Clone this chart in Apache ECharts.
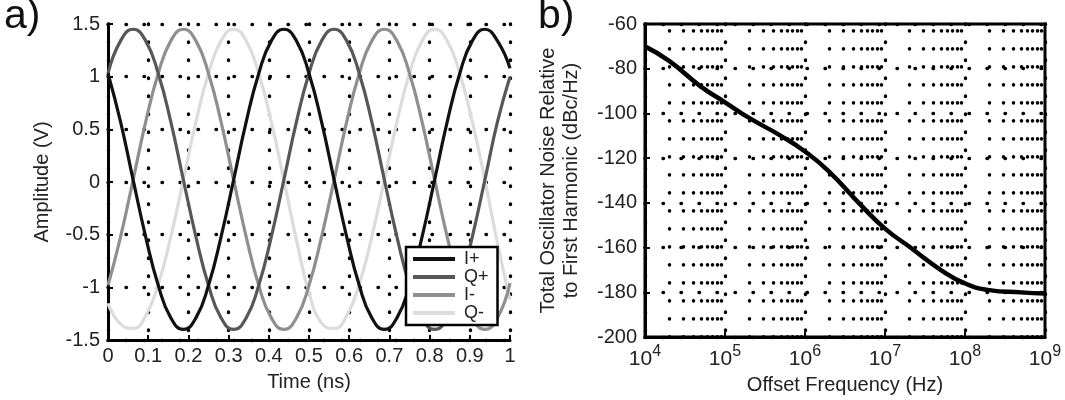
<!DOCTYPE html>
<html>
<head>
<meta charset="utf-8">
<script src="https://cdn.jsdelivr.net/npm/echarts@6/dist/echarts.min.js"></script>
<style>
  html, body { margin: 0; background: #fff; }
  #main { width: 1065px; height: 400px; }
</style>
</head>
<body>
<div id="main"></div>
<script>
// a) 四相振荡器输出波形，时间单位 ns
const timeNs = [0, 0.03125, 0.0625, 0.09375, 0.125, 0.15625, 0.1875, 0.21875, 0.25,
  0.28125, 0.3125, 0.34375, 0.375, 0.40625, 0.4375, 0.46875, 0.5,
  0.53125, 0.5625, 0.59375, 0.625, 0.65625, 0.6875, 0.71875, 0.75,
  0.78125, 0.8125, 0.84375, 0.875, 0.90625, 0.9375, 0.96875, 1];

const iPlus = [1.03, 0.57, 0.02, -0.52, -0.98, -1.29, -1.40, -1.29, -0.98,
  -0.52, 0.02, 0.57, 1.03, 1.34, 1.45, 1.34, 1.03,
  0.57, 0.02, -0.52, -0.98, -1.29, -1.40, -1.29, -0.98,
  -0.52, 0.02, 0.57, 1.03, 1.34, 1.45, 1.34, 1.08];
const qPlus = [1.03, 1.34, 1.45, 1.34, 1.03, 0.57, 0.02, -0.52, -0.98,
  -1.29, -1.40, -1.29, -0.98, -0.52, 0.02, 0.57, 1.03,
  1.34, 1.45, 1.34, 1.03, 0.57, 0.02, -0.52, -0.98,
  -1.29, -1.40, -1.29, -0.98, -0.52, 0.02, 0.57, 1.00];
const iMinus = [-0.98, -0.52, 0.02, 0.57, 1.03, 1.34, 1.45, 1.34, 1.03,
  0.57, 0.02, -0.52, -0.98, -1.29, -1.40, -1.29, -0.98,
  -0.52, 0.02, 0.57, 1.03, 1.34, 1.45, 1.34, 1.03,
  0.57, 0.02, -0.52, -0.98, -1.29, -1.40, -1.29, -0.96];
const qMinus = [-1.15, -1.35, -1.39, -1.27, -0.97, -0.52, 0.02, 0.57, 1.03,
  1.34, 1.45, 1.34, 1.03, 0.57, 0.02, -0.55, -1.05,
  -1.34, -1.39, -1.27, -0.97, -0.52, 0.02, 0.57, 1.03,
  1.34, 1.45, 1.34, 1.03, 0.57, 0.02, -0.58, -1.12];

const seriesNames = ['I+', 'Q+', 'I-', 'Q-'];
const seriesColors = ['#111111', '#575757', '#8f8f8f', '#dcdcdc'];

// b) 相对一次谐波的总噪声
const freqHz = [1e4, 2e4, 5e4, 1e5, 2e5, 5e5, 1e6, 2e6, 5e6, 1e7, 2e7, 5e7, 1e8, 2e8, 5e8, 1e9];
const noiseDbc = [-70, -76.5, -88, -95, -102, -110, -117, -126, -141, -151.5, -159.5, -170, -176, -179, -180, -180.5];

// 对数轴的次网格线位置
const minorFreqs = [
  2e4, 3e4, 4e4, 5e4, 6e4, 7e4, 8e4, 9e4,
  2e5, 3e5, 4e5, 5e5, 6e5, 7e5, 8e5, 9e5,
  2e6, 3e6, 4e6, 5e6, 6e6, 7e6, 8e6, 9e6,
  2e7, 3e7, 4e7, 5e7, 6e7, 7e7, 8e7, 9e7,
  2e8, 3e8, 4e8, 5e8, 6e8, 7e8, 8e8, 9e8
];

const FONT = '"Liberation Sans", Arial, sans-serif';
const dotLine = { color: '#000', type: [0.5, 17.5], width: 3.4, cap: 'round' };

var myChart = echarts.init(document.getElementById('main'));

const waveData = [iPlus, qPlus, iMinus, qMinus];
const waveSeries = waveData.map((vals, k) => ({
  name: seriesNames[k],
  type: 'line',
  xAxisIndex: 0,
  yAxisIndex: 0,
  smooth: true,
  symbol: 'none',
  lineStyle: { color: seriesColors[k], width: 3.2 },
  itemStyle: { color: seriesColors[k] },
  data: timeNs.map((t, i) => [t, vals[i]]),
  z: 3 + (3 - k)
}));

var option = {
  animation: false,
  backgroundColor: '#fff',
  textStyle: { fontFamily: FONT },
  graphic: [
    { type: 'text', left: 4, top: -4, style: { text: 'a)', fontSize: 41, fill: '#111', fontFamily: FONT } },
    { type: 'text', left: 538, top: -4, style: { text: 'b)', fontSize: 41, fill: '#111', fontFamily: FONT } }
  ],
  legend: {
    data: seriesNames,
    orient: 'vertical',
    left: 406,
    top: 247,
    icon: 'rect',
    itemWidth: 42,
    itemHeight: 4,
    itemGap: 0,
    padding: [3, 9, 3, 7],
    borderColor: '#000',
    borderWidth: 2.5,
    backgroundColor: '#fff',
    textStyle: { fontSize: 18, lineHeight: 17, color: '#222', fontFamily: FONT, padding: [0, 0, 0, 4] },
    z: 10
  },
  grid: [
    { left: 108, top: 24, width: 402, height: 316 },
    { left: 645, top: 24, width: 400, height: 316, show: true, borderColor: '#000', borderWidth: 3 }
  ],
  xAxis: [
    {
      gridIndex: 0,
      type: 'value',
      min: 0,
      max: 1,
      interval: 0.1,
      name: 'Time (ns)',
      nameLocation: 'middle',
      nameGap: 32,
      nameTextStyle: { fontSize: 20, color: '#222' },
      axisLine: { onZero: false, lineStyle: { color: '#000', width: 3 } },
      axisTick: { inside: true, length: 5, lineStyle: { color: '#000', width: 2 } },
      axisLabel: { fontSize: 20, color: '#222', margin: 6 },
      splitLine: { show: true, lineStyle: dotLine }
    },
    {
      gridIndex: 1,
      type: 'log',
      logBase: 10,
      min: 1e4,
      max: 1e9,
      name: 'Offset Frequency (Hz)',
      nameLocation: 'middle',
      nameGap: 32,
      nameTextStyle: { fontSize: 20, color: '#222' },
      axisLine: { onZero: false, lineStyle: { color: '#000', width: 3 } },
      axisTick: { inside: true, length: 5, lineStyle: { color: '#000', width: 2 } },
      axisLabel: {
        margin: 4,
        formatter: function (v) {
          return '{b|10}{s|' + Math.round(Math.log10(v)) + '}';
        },
        rich: {
          b: { fontSize: 21, color: '#222', fontFamily: FONT, padding: [8, 0, 0, 0] },
          s: { fontSize: 16, color: '#222', fontFamily: FONT, padding: [0, 0, 8, 0] }
        }
      },
      splitLine: { show: true, lineStyle: dotLine }
    }
  ],
  yAxis: [
    {
      gridIndex: 0,
      type: 'value',
      min: -1.5,
      max: 1.5,
      interval: 0.5,
      name: 'Amplitude (V)',
      nameLocation: 'middle',
      nameGap: 56,
      nameTextStyle: { fontSize: 20, color: '#222' },
      axisLine: { show: true, onZero: false, lineStyle: { color: '#000', width: 3 } },
      axisTick: { show: true, inside: true, length: 5, lineStyle: { color: '#000', width: 2 } },
      axisLabel: { fontSize: 20, color: '#222', margin: 8 },
      splitLine: { show: true, lineStyle: dotLine }
    },
    {
      gridIndex: 1,
      type: 'value',
      min: -200,
      max: -60,
      interval: 20,
      name: 'Total Oscillator Noise Relative\nto First Harmonic (dBc/Hz)',
      nameLocation: 'middle',
      nameGap: 62,
      nameTextStyle: { fontSize: 20, color: '#222', lineHeight: 23, align: 'center' },
      axisLine: { show: true, onZero: false, lineStyle: { color: '#000', width: 3 } },
      axisTick: { show: true, inside: true, length: 5, lineStyle: { color: '#000', width: 2 } },
      axisLabel: { fontSize: 20, color: '#222', margin: 8 },
      splitLine: { show: true, lineStyle: dotLine }
    }
  ],
  series: waveSeries.concat([
    {
      name: 'noise',
      type: 'line',
      xAxisIndex: 1,
      yAxisIndex: 1,
      smooth: true,
      symbol: 'none',
      lineStyle: { color: '#000', width: 4.5 },
      data: freqHz.map((f, i) => [f, noiseDbc[i]]),
      z: 5,
      markLine: {
        silent: true,
        symbol: 'none',
        label: { show: false },
        lineStyle: dotLine,
        data: minorFreqs.map(f => ({ xAxis: f }))
      }
    }
  ])
};
myChart.setOption(option);
</script>
</body>
</html>
